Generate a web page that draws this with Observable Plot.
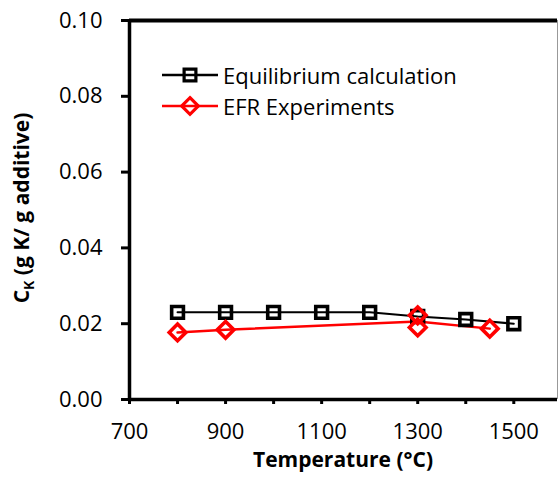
<!DOCTYPE html>
<html>
<head>
<meta charset="utf-8">
<script src="https://cdn.jsdelivr.net/npm/d3@7"></script>
<script src="https://cdn.jsdelivr.net/npm/@observablehq/plot@0.6"></script>
<style>
  html, body { margin: 0; padding: 0; background: white; }
  #wrap { position: relative; width: 559px; height: 479px; }
  #legend { position: absolute; left: 162px; top: 59px; font-family: "Open Sans", sans-serif; font-size: 22px; color: #000; }
  #legend .row { display: flex; align-items: center; height: 31px; }
  #legend svg { margin-right: 5px; }
</style>
</head>
<body>
<div id="wrap"><div id="legend"></div></div>
<script>
// Data
const seriesNames = ["Equilibrium calculation", "EFR Experiments"];
const seriesColors = ["#000000", "#ff0000"];
const eqTemp = [800, 900, 1000, 1100, 1200, 1300, 1400, 1500];
const eqCK = [0.0230, 0.0230, 0.0230, 0.0230, 0.0230, 0.0219, 0.0211, 0.0200];
const efrTemp = [800, 900, 1300, 1300, 1450];
const efrCK = [0.0177, 0.0184, 0.0222, 0.0190, 0.0187];
const xTicks = [700, 800, 900, 1000, 1100, 1200, 1300, 1400, 1500];
const xLabels = [700, 900, 1100, 1300, 1500];
const yTicks = [0, 0.02, 0.04, 0.06, 0.08, 0.10];

const eq = eqTemp.map((t, i) => ({t, v: eqCK[i]}));
const efr = efrTemp.map((t, i) => ({t, v: efrCK[i]}));
// line through the mean of replicate measurements
const efrLine = Array.from(d3.rollup(efr, g => d3.mean(g, d => d.v), d => d.t), ([t, v]) => ({t, v}));

const FONT = "'Open Sans', sans-serif";
const xMax = 1591;
const chart = Plot.plot({
  width: 559, height: 479,
  marginLeft: 129, marginTop: 20, marginBottom: 80, marginRight: 2,
  x: {domain: [700, xMax]},
  y: {domain: [0, 0.1]},
  style: {fontFamily: FONT, fontSize: "22px", color: "#000", background: "white", overflow: "visible"},
  marks: [
    Plot.ruleX([xMax], {stroke: "#999", strokeWidth: 1}),
    Plot.ruleY([0.1], {stroke: "black", strokeWidth: 4}),
    Plot.axisY({ticks: yTicks, tickFormat: d3.format(".2f"), tickSize: 8, tickPadding: 19, strokeWidth: 3, label: null, fontSize: 22}),
    Plot.axisX({ticks: xTicks, tickFormat: d => xLabels.includes(d) ? String(d) : "", tickSize: 5, tickPadding: 19, strokeWidth: 3, label: null, fontSize: 22}),
    Plot.ruleX([700], {stroke: "black", strokeWidth: 3.5}),
    Plot.ruleY([0], {stroke: "black", strokeWidth: 3.5}),
    Plot.line(eq, {x: "t", y: "v", stroke: seriesColors[0], strokeWidth: 2}),
    Plot.line(efrLine, {x: "t", y: "v", stroke: seriesColors[1], strokeWidth: 2.5}),
    Plot.dot(eq, {x: "t", y: "v", symbol: "square2", r: 7.5, stroke: seriesColors[0], strokeWidth: 3.6, fill: "none"}),
    Plot.dot(efr, {x: "t", y: "v", symbol: "diamond2", r: 7.5, stroke: seriesColors[1], strokeWidth: 3.6, fill: "none"})
  ]
});

const svg = d3.select(chart);
svg.append("text")
  .attr("x", 343).attr("y", 467)
  .attr("text-anchor", "middle")
  .attr("font-family", FONT)
  .attr("font-size", 21).attr("font-weight", "bold")
  .text("Temperature (°C)");
const yt = svg.append("text")
  .attr("transform", "translate(29,208) rotate(-90)")
  .attr("text-anchor", "middle")
  .attr("font-family", FONT)
  .attr("font-size", 21).attr("font-weight", "bold");
yt.append("tspan").text("C");
yt.append("tspan").attr("font-size", 14).attr("dy", 5).text("K");
yt.append("tspan").attr("dy", -5).text(" (g K/ g additive)");

document.getElementById("wrap").prepend(chart);

// legend
const legend = d3.select("#legend");
const sym = [d3.symbol(d3.symbolSquare2, Math.PI * 7.5 * 7.5)(), d3.symbol(d3.symbolDiamond2, Math.PI * 7.5 * 7.5)()];
seriesNames.forEach((name, i) => {
  const row = legend.append("div").attr("class", "row");
  const s = row.append("svg").attr("width", 56).attr("height", 24);
  s.append("line").attr("x1", 0).attr("x2", 56).attr("y1", 12).attr("y2", 12)
    .attr("stroke", seriesColors[i]).attr("stroke-width", 2.5);
  s.append("path").attr("d", sym[i]).attr("transform", "translate(28,12)")
    .attr("fill", "none").attr("stroke", seriesColors[i]).attr("stroke-width", 3.2);
  row.append("span").text(name);
});
</script>
</body>
</html>
